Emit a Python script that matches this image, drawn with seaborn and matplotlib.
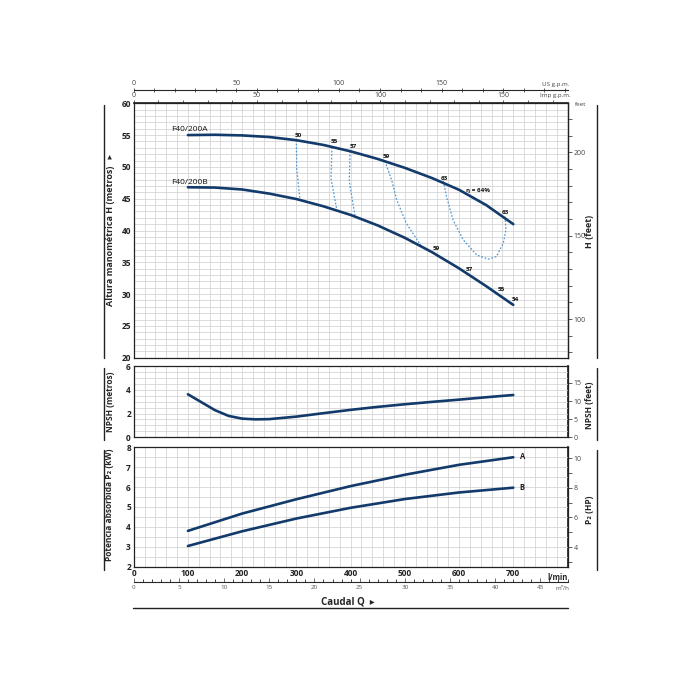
import numpy as np
import pandas as pd
import matplotlib
matplotlib.use("Agg")
import matplotlib.pyplot as plt
import seaborn as sns
from matplotlib.lines import Line2D
from matplotlib.ticker import MultipleLocator, FixedLocator
import matplotlib.transforms as mtrans

# ---------------- data ----------------
q_head = [100, 150, 200, 250, 300, 350, 400, 450, 500, 550, 600, 650, 700]
h_a = [55.0, 55.05, 54.95, 54.7, 54.2, 53.45, 52.45, 51.25, 49.85, 48.25, 46.4, 44.0, 41.0]
h_b = [46.8, 46.75, 46.45, 45.8, 44.95, 43.8, 42.45, 40.8, 38.85, 36.6, 34.05, 31.25, 28.3]

eff50_q = [300, 300.5, 306.7]; eff50_h = [54.2, 49.8, 44.8]
eff55_q = [365.7, 363.8, 374.3]; eff55_h = [53.1, 48.2, 43.4]
eff57_q = [399, 397.6, 408]; eff57_h = [52.45, 47.7, 42.4]
eff59_q = [463.4, 475.8, 485, 503, 531]; eff59_h = [50.9, 47.9, 44.8, 41.1, 37.45]
eff63_q = [571, 577, 589, 608, 632.5, 654, 669, 681.5, 686.5, 684.7]
eff63_h = [47.75, 45.3, 41.65, 38.5, 36.15, 35.5, 35.9, 38.0, 40.1, 42.2]

eff_labels_a = ["50", "55", "57", "59", "63", "63"]
eff_labels_a_q = [303, 370, 405, 466.5, 573, 686]
eff_labels_a_h = [54.9, 53.96, 53.2, 51.6, 48.2, 42.9]
eff_labels_b = ["59", "57", "55", "54"]
eff_labels_b_q = [558.7, 619, 678, 703]
eff_labels_b_h = [37.1, 33.9, 30.75, 29.1]

q_npsh = [100, 125, 150, 175, 200, 225, 250, 300, 350, 400, 450, 500, 550, 600, 650, 700]
npsh = [3.62, 2.95, 2.28, 1.80, 1.57, 1.51, 1.53, 1.74, 2.03, 2.31, 2.56, 2.78, 2.98, 3.17, 3.37, 3.56]

q_pow = [100, 200, 300, 400, 500, 600, 700]
p_a = [3.80, 4.67, 5.39, 6.05, 6.62, 7.12, 7.50]
p_b = [3.04, 3.78, 4.42, 4.96, 5.40, 5.73, 5.97]

x_ticks = [0, 100, 200, 300, 400, 500, 600, 700]

# ---------------- style ----------------
sns.set_theme(style="white")
plt.rcParams["font.family"] = ["Open Sans", "DejaVu Sans"]
NAVY = "#123a6b"
EFF = "#4f97d3"
GRID = "#d2d2d2"

fig = plt.figure(figsize=(7, 7), dpi=100)
W = 700.0
def fy(p):
    return 1 - p / W

L = 133.7 / W
AW = (567.5 - 133.7) / W
ax_h = fig.add_axes([L, fy(357.7), AW, (357.7 - 103.3) / W])
ax_n = fig.add_axes([L, fy(437.3), AW, (437.3 - 366.0) / W])
ax_p = fig.add_axes([L, fy(566.7), AW, (566.7 - 447.3) / W])

def base(ax, ylo, yhi, ymaj, ymin):
    ax.set_xlim(0, 800)
    ax.set_ylim(ylo, yhi)
    ax.xaxis.set_major_locator(MultipleLocator(100))
    ax.xaxis.set_minor_locator(MultipleLocator(20))
    ax.yaxis.set_major_locator(MultipleLocator(ymaj))
    ax.yaxis.set_minor_locator(MultipleLocator(ymin))
    ax.grid(True, which="both", color=GRID, lw=0.55)
    ax.set_axisbelow(True)
    for s in ax.spines.values():
        s.set_color("#222222")
        s.set_linewidth(0.9)
        s.set_visible(True)
    ax.tick_params(which="both", length=0, pad=2, labelsize=6, colors="#222222")
    for t in ax.get_yticklabels():
        t.set_fontweight("bold")
    ax.set_xlabel("")
    ax.set_ylabel("")

# ---------- head panel ----------
df_a = pd.DataFrame({"Q": q_head, "H": h_a})
df_b = pd.DataFrame({"Q": q_head, "H": h_b})
for (eq, eh) in [(eff50_q, eff50_h), (eff55_q, eff55_h), (eff57_q, eff57_h),
                 (eff59_q, eff59_h), (eff63_q, eff63_h)]:
    sns.lineplot(data=pd.DataFrame({"Q": eq, "H": eh}), x="Q", y="H", ax=ax_h,
                 sort=False, estimator=None, color=EFF, lw=0.9, linestyle=(0, (1.4, 1.4)))
sns.lineplot(data=df_a, x="Q", y="H", ax=ax_h, color=NAVY, lw=1.9, sort=False, estimator=None)
sns.lineplot(data=df_b, x="Q", y="H", ax=ax_h, color=NAVY, lw=1.9, sort=False, estimator=None)
base(ax_h, 20, 60, 5, 1)
ax_h.set_xticklabels([])

for t, q, h in zip(eff_labels_a, eff_labels_a_q, eff_labels_a_h):
    ax_h.text(q, h, t, fontsize=4.5, fontweight="bold", ha="center", va="center", color="#111")
for t, q, h in zip(eff_labels_b, eff_labels_b_q, eff_labels_b_h):
    ax_h.text(q, h, t, fontsize=4.5, fontweight="bold", ha="center", va="center", color="#111")
ax_h.text(613, 46.3, "η = 64%", fontsize=4.5, fontweight="bold", ha="left", va="center", color="#111")
ax_h.text(69, 55.88, "F40/200A", fontsize=6, ha="left", va="center", color="#111")
ax_h.text(69, 47.58, "F40/200B", fontsize=6, ha="left", va="center", color="#111")

# right feet axis (as printed on the original)
m2ft = lambda m: 100 + (np.asarray(m) - 26.08) / 0.2621
ft2m = lambda f: 26.08 + (np.asarray(f) - 100) * 0.2621
sec = ax_h.secondary_yaxis("right", functions=(m2ft, ft2m))
sec.yaxis.set_major_locator(FixedLocator([100, 150, 200]))
sec.yaxis.set_minor_locator(MultipleLocator(10))
sec.tick_params(which="major", length=3, width=0.6, labelsize=5, colors="#444", pad=1.5)
sec.tick_params(which="minor", length=3, width=0.6, colors="#444")
sec.spines["right"].set_linewidth(0.9)
fig.text(575 / W, fy(105), "feet", fontsize=4.5, color="#444", ha="left", va="center")

# top Imp gpm on top spine
imp = ax_h.secondary_xaxis("top", functions=(lambda q: np.asarray(q) / 4.546, lambda g: np.asarray(g) * 4.546))
imp.xaxis.set_major_locator(FixedLocator([0, 50, 100, 150]))
imp.xaxis.set_minor_locator(MultipleLocator(10))
imp.tick_params(which="both", direction="out", length=2.5, width=0.6, labelsize=5, colors="#444", pad=0.5)
fig.text(555 / W, fy(96), "Imp g.p.m.", fontsize=4.5, color="#444", ha="center", va="center")

# US gpm line above
us = ax_h.secondary_xaxis(1 + (103.3 - 90.0) / 254.4,
                          functions=(lambda q: np.asarray(q) / 3.785, lambda g: np.asarray(g) * 3.785))
us.xaxis.set_major_locator(FixedLocator([0, 50, 100, 150]))
us.xaxis.set_minor_locator(MultipleLocator(10))
us.tick_params(which="both", direction="inout", length=3, width=0.6, labelsize=5, colors="#444", pad=0.5)
us.spines["top"].set_linewidth(0.8)
fig.text(556 / W, fy(84.5), "US g.p.m.", fontsize=4.5, color="#444", ha="center", va="center")

# ---------- NPSH panel ----------
sns.lineplot(data=pd.DataFrame({"Q": q_npsh, "N": npsh}), x="Q", y="N", ax=ax_n,
             color=NAVY, lw=1.9, sort=False, estimator=None)
base(ax_n, 0, 6, 2, 0.5)
ax_n.set_xticklabels([])
secn = ax_n.secondary_yaxis("right", functions=(lambda m: np.asarray(m) / 0.3048, lambda f: np.asarray(f) * 0.3048))
secn.yaxis.set_major_locator(FixedLocator([0, 5, 10, 15]))
secn.tick_params(which="major", length=3, width=0.6, labelsize=5, colors="#444", pad=1.5)

# ---------- power panel ----------
sns.lineplot(data=pd.DataFrame({"Q": q_pow, "P": p_a}), x="Q", y="P", ax=ax_p,
             color=NAVY, lw=1.9, sort=False, estimator=None)
sns.lineplot(data=pd.DataFrame({"Q": q_pow, "P": p_b}), x="Q", y="P", ax=ax_p,
             color=NAVY, lw=1.9, sort=False, estimator=None)
base(ax_p, 2, 8, 1, 0.5)
ax_p.set_xticks(x_ticks)
ax_p.xaxis.set_minor_locator(MultipleLocator(20))
ax_p.set_xticklabels([str(v) for v in x_ticks], fontweight="bold", fontsize=6)
ax_p.tick_params(axis="x", pad=2)
ax_p.text(800, -0.05, "l/min", transform=mtrans.blended_transform_factory(ax_p.transData, ax_p.transAxes),
          fontsize=5.5, fontweight="bold", ha="right", va="top", color="#222")
ax_p.text(712, 7.52, "A", fontsize=5.5, fontweight="bold", ha="left", va="center", color="#222")
ax_p.text(712, 5.96, "B", fontsize=5.5, fontweight="bold", ha="left", va="center", color="#222")

secp = ax_p.secondary_yaxis("right", functions=(lambda k: np.asarray(k) / 0.7457, lambda h: np.asarray(h) * 0.7457))
secp.yaxis.set_major_locator(FixedLocator([4, 6, 8, 10]))
secp.yaxis.set_minor_locator(MultipleLocator(1))
secp.tick_params(which="both", length=3, width=0.6, labelsize=5, colors="#444", pad=1.5)

m3 = ax_p.secondary_xaxis(-(581.7 - 566.7) / 119.4,
                          functions=(lambda q: np.asarray(q) * 0.06, lambda m: np.asarray(m) / 0.06))
m3.xaxis.set_minor_locator(MultipleLocator(1))
m3.set_xticks([0, 5, 10, 15, 20, 25, 30, 35, 40, 45])
m3.tick_params(which="major", direction="in", length=3, width=0.6, labelsize=4.5, colors="#555", pad=2.5)
m3.tick_params(which="minor", direction="in", length=2, width=0.6)
m3.spines["bottom"].set_linewidth(0.8)
fig.text(562 / W, fy(589), "m³/h", fontsize=4.5, color="#555", ha="center", va="center")

# ---------- axis titles and brackets ----------
fam = ["Open Sans", "DejaVu Sans"]
fig.text(111 / W, fy(230), "Altura manométrica H (metros)   ▸", rotation=90, fontsize=6.5,
         fontweight="bold", ha="center", va="center", family=fam)
fig.text(590 / W, fy(231), "H (feet)", rotation=90, fontsize=6.5, fontweight="bold",
         ha="center", va="center", family=fam)
fig.text(111 / W, fy(402), "NPSH (metros)", rotation=90, fontsize=6, fontweight="bold",
         ha="center", va="center", family=fam)
fig.text(590 / W, fy(405), "NPSH (feet)", rotation=90, fontsize=6, fontweight="bold",
         ha="center", va="center", family=fam)
fig.text(110 / W, fy(505), "Potencia absorbida P₂ (kW)", rotation=90, fontsize=6, fontweight="bold",
         ha="center", va="center", family=fam)
fig.text(590 / W, fy(510), "P₂ (HP)", rotation=90, fontsize=6, fontweight="bold",
         ha="center", va="center", family=fam)
fig.text(348 / W, fy(602.5), "Caudal Q  ▸", fontsize=7, fontweight="bold",
         ha="center", va="center", family=fam)

def fline(x0, y0, x1, y1, lw=1.0):
    fig.add_artist(Line2D([x0 / W, x1 / W], [fy(y0), fy(y1)], color="#222222", lw=lw,
                          transform=fig.transFigure))

for (a, b) in [(105, 358), (368, 440), (450, 570)]:
    fline(104, a, 104, b)
    fline(597, a, 597, b)
fline(133, 607.5, 568, 607.5)

fig.savefig("out.png", dpi=100, facecolor="white")
